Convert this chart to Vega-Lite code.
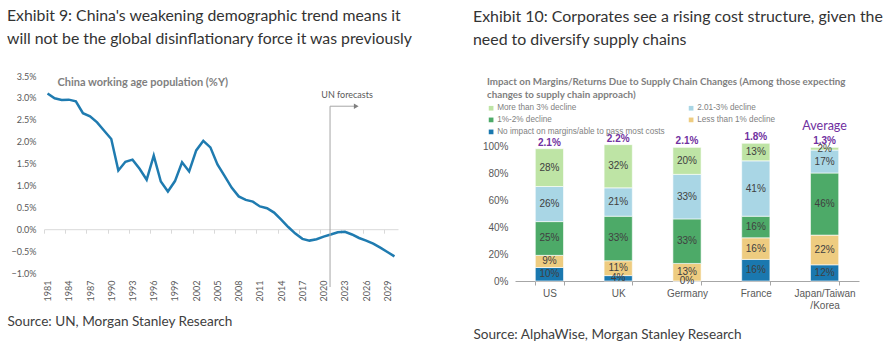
{
  "$schema": "https://vega.github.io/schema/vega-lite/v6.json",
  "background": "white",
  "padding": {"left": 7, "top": 8, "right": 4, "bottom": 4},
  "spacing": 60,
  "config": {"view": {"stroke": null}},
  "resolve": {"legend": {"color": "independent"}, "scale": {"color": "independent"}},
  "datasets": {
    "pop": [
      {"year": 1981, "value": 3.10}, {"year": 1982, "value": 2.99}, {"year": 1983, "value": 2.95}, {"year": 1984, "value": 2.96},
      {"year": 1985, "value": 2.92}, {"year": 1986, "value": 2.65}, {"year": 1987, "value": 2.58}, {"year": 1988, "value": 2.44},
      {"year": 1989, "value": 2.25}, {"year": 1990, "value": 2.06}, {"year": 1991, "value": 1.34}, {"year": 1992, "value": 1.54},
      {"year": 1993, "value": 1.59}, {"year": 1994, "value": 1.38}, {"year": 1995, "value": 1.13}, {"year": 1996, "value": 1.68},
      {"year": 1997, "value": 1.09}, {"year": 1998, "value": 0.86}, {"year": 1999, "value": 1.10}, {"year": 2000, "value": 1.53},
      {"year": 2001, "value": 1.32}, {"year": 2002, "value": 1.80}, {"year": 2003, "value": 2.02}, {"year": 2004, "value": 1.87},
      {"year": 2005, "value": 1.48}, {"year": 2006, "value": 1.22}, {"year": 2007, "value": 0.95}, {"year": 2008, "value": 0.75},
      {"year": 2009, "value": 0.67}, {"year": 2010, "value": 0.63}, {"year": 2011, "value": 0.52}, {"year": 2012, "value": 0.48},
      {"year": 2013, "value": 0.38}, {"year": 2014, "value": 0.22}, {"year": 2015, "value": 0.05}, {"year": 2016, "value": -0.10},
      {"year": 2017, "value": -0.22}, {"year": 2018, "value": -0.26}, {"year": 2019, "value": -0.23}, {"year": 2020, "value": -0.17},
      {"year": 2021, "value": -0.12}, {"year": 2022, "value": -0.07}, {"year": 2023, "value": -0.06}, {"year": 2024, "value": -0.12},
      {"year": 2025, "value": -0.20}, {"year": 2026, "value": -0.26}, {"year": 2027, "value": -0.33}, {"year": 2028, "value": -0.42},
      {"year": 2029, "value": -0.52}, {"year": 2030, "value": -0.62}
    ],
    "segments": [
      {"country": "US", "category": "No impact on margins/able to pass most costs", "order": 1, "value": 10},
      {"country": "US", "category": "Less than 1% decline", "order": 2, "value": 9},
      {"country": "US", "category": "1%-2% decline", "order": 3, "value": 25},
      {"country": "US", "category": "2.01-3% decline", "order": 4, "value": 26},
      {"country": "US", "category": "More than 3% decline", "order": 5, "value": 28},
      {"country": "UK", "category": "No impact on margins/able to pass most costs", "order": 1, "value": 4},
      {"country": "UK", "category": "Less than 1% decline", "order": 2, "value": 11},
      {"country": "UK", "category": "1%-2% decline", "order": 3, "value": 33},
      {"country": "UK", "category": "2.01-3% decline", "order": 4, "value": 21},
      {"country": "UK", "category": "More than 3% decline", "order": 5, "value": 32},
      {"country": "Germany", "category": "No impact on margins/able to pass most costs", "order": 1, "value": 0},
      {"country": "Germany", "category": "Less than 1% decline", "order": 2, "value": 13},
      {"country": "Germany", "category": "1%-2% decline", "order": 3, "value": 33},
      {"country": "Germany", "category": "2.01-3% decline", "order": 4, "value": 33},
      {"country": "Germany", "category": "More than 3% decline", "order": 5, "value": 20},
      {"country": "France", "category": "No impact on margins/able to pass most costs", "order": 1, "value": 16},
      {"country": "France", "category": "Less than 1% decline", "order": 2, "value": 16},
      {"country": "France", "category": "1%-2% decline", "order": 3, "value": 16},
      {"country": "France", "category": "2.01-3% decline", "order": 4, "value": 41},
      {"country": "France", "category": "More than 3% decline", "order": 5, "value": 13},
      {"country": "Japan/Taiwan/Korea", "category": "No impact on margins/able to pass most costs", "order": 1, "value": 12},
      {"country": "Japan/Taiwan/Korea", "category": "Less than 1% decline", "order": 2, "value": 22},
      {"country": "Japan/Taiwan/Korea", "category": "1%-2% decline", "order": 3, "value": 46},
      {"country": "Japan/Taiwan/Korea", "category": "2.01-3% decline", "order": 4, "value": 17},
      {"country": "Japan/Taiwan/Korea", "category": "More than 3% decline", "order": 5, "value": 2}
    ],
    "averages": [
      {"country": "US", "avg": "2.1%"},
      {"country": "UK", "avg": "2.2%"},
      {"country": "Germany", "avg": "2.1%"},
      {"country": "France", "avg": "1.8%"},
      {"country": "Japan/Taiwan/Korea", "avg": "1.3%"}
    ],
    "one": [{"n": 1}]
  },
  "hconcat": [
    {
      "width": 354,
      "height": 197,
      "title": {
        "text": ["Exhibit 9: China's weakening demographic trend means it", "will not be the global disinflationary force it was previously"],
        "anchor": "start", "frame": "group", "dx": -37, "offset": 24,
        "font": "Lato", "fontSize": 15.8, "fontWeight": "normal", "color": "#333333", "lineHeight": 23
      },
      "layer": [
        {
          "data": {"name": "pop"},
          "mark": {"type": "line", "color": "#1f7bb0", "strokeWidth": 2.5},
          "encoding": {
            "x": {
              "field": "year", "type": "quantitative",
              "scale": {"domain": [1980.5, 2030.5], "nice": false, "zero": false},
              "axis": {
                "orient": "bottom", "offset": -43.8, "title": null, "labels": false, "grid": false,
                "values": [1980.5, 1983.5, 1986.5, 1989.5, 1992.5, 1995.5, 1998.5, 2001.5, 2004.5, 2007.5, 2010.5, 2013.5, 2016.5, 2019.5, 2022.5, 2025.5, 2028.5],
                "domainColor": "#d9d9d9", "tickColor": "#d9d9d9", "tickSize": 4
              }
            },
            "y": {
              "field": "value", "type": "quantitative",
              "scale": {"domain": [-1, 3.5], "nice": false, "zero": false},
              "axis": {
                "orient": "left", "title": null, "values": [-1, -0.5, 0, 0.5, 1, 1.5, 2, 2.5, 3, 3.5],
                "labelExpr": "format(datum.value, '.1f') + '%'", "labelOverlap": false,
                "grid": false, "domain": false, "ticks": false, "labelPadding": 8,
                "labelFont": "Lato", "labelFontSize": 9, "labelColor": "#595959"
              }
            }
          }
        },
        {
          "data": {"name": "one"},
          "mark": {"type": "rule", "color": "#a6a6a6", "strokeWidth": 1},
          "encoding": {
            "x": {
              "datum": 2020.9, "type": "quantitative",
              "axis": {
                "orient": "bottom", "grid": false, "domain": false, "ticks": false, "labelOverlap": false,
                "values": [1981, 1984, 1987, 1990, 1993, 1996, 1999, 2002, 2005, 2008, 2011, 2014, 2017, 2020, 2023, 2026, 2029],
                "format": "d", "labelAngle": -90, "labelPadding": 7,
                "labelFont": "Lato", "labelFontSize": 9, "labelColor": "#595959",
                "title": "Source: UN, Morgan Stanley Research",
                "titleFont": "Lato", "titleFontSize": 13.6, "titleFontWeight": "normal", "titleColor": "#404040",
                "titleAnchor": "start", "titleAlign": "left", "titleBaseline": "middle", "titleX": -37, "titleY": 48
              }
            },
            "y": {"datum": 2.81, "type": "quantitative", "axis": null},
            "y2": {"datum": -1.32}
          }
        },
        {
          "data": {"name": "one"},
          "mark": {"type": "rule", "color": "#a6a6a6", "strokeWidth": 1},
          "encoding": {
            "x": {"datum": 2020.9, "type": "quantitative", "axis": null},
            "x2": {"datum": 2024.3},
            "y": {"datum": 2.81, "type": "quantitative", "axis": null}
          }
        },
        {
          "data": {"name": "one"},
          "mark": {"type": "point", "shape": "triangle-right", "filled": true, "color": "#7f7f7f", "size": 30, "opacity": 1},
          "encoding": {
            "x": {"datum": 2024.6, "type": "quantitative", "axis": null},
            "y": {"datum": 2.81, "type": "quantitative", "axis": null}
          }
        },
        {
          "data": {"name": "one"},
          "mark": {"type": "text", "font": "Lato", "fontSize": 9, "color": "#595959", "align": "center", "baseline": "middle"},
          "encoding": {
            "x": {"datum": 2023.3, "type": "quantitative", "axis": null},
            "y": {"datum": 3.07, "type": "quantitative", "axis": null},
            "text": {"value": "UN forecasts"}
          }
        },
        {
          "data": {"name": "one"},
          "mark": {"type": "text", "font": "Lato", "fontSize": 11, "fontWeight": "bold", "color": "#7f7f7f", "align": "left", "baseline": "middle"},
          "encoding": {
            "x": {"datum": 1982.4, "type": "quantitative", "axis": null},
            "y": {"datum": 3.34, "type": "quantitative", "axis": null},
            "text": {"value": "China working age population (%Y)"}
          }
        }
      ],
      "resolve": {"axis": {"x": "independent", "y": "independent"}}
    },
    {
      "width": 344,
      "height": 205,
      "title": {
        "text": ["Exhibit 10: Corporates see a rising cost structure, given the", "need to diversify supply chains"],
        "anchor": "start", "frame": "group", "dx": -42, "offset": 28,
        "font": "Lato", "fontSize": 15.9, "fontWeight": "normal", "color": "#333333", "lineHeight": 23
      },
      "data": {"name": "segments"},
      "transform": [
        {"stack": "value", "groupby": ["country"], "sort": [{"field": "order", "order": "ascending"}], "as": ["y0", "y1"]},
        {"calculate": "(datum.y0 + datum.y1) / 2", "as": "mid"},
        {"calculate": "datum.value + '%'", "as": "label"}
      ],
      "layer": [
        {
          "mark": {"type": "bar", "stroke": "white", "strokeWidth": 0.6},
          "encoding": {
            "x": {
              "field": "country", "type": "nominal",
              "sort": ["US", "UK", "Germany", "France", "Japan/Taiwan/Korea"],
              "scale": {"paddingInner": 0.59, "paddingOuter": 0.295},
              "axis": {
                "labelAngle": 0, "labelExpr": "datum.label == 'Japan/Taiwan/Korea' ? ['Japan/Taiwan', '/Korea'] : datum.label",
                "labelFont": "Liberation Sans", "labelFontSize": 10, "labelColor": "#595959", "labelPadding": 3, "labelLineHeight": 12,
                "domainColor": "#a6a6a6", "tickColor": "#a6a6a6", "tickSize": 4, "tickBand": "extent",
                "title": "Source: AlphaWise, Morgan Stanley Research",
                "titleFont": "Lato", "titleFontSize": 13.6, "titleFontWeight": "normal", "titleColor": "#404040",
                "titleAnchor": "start", "titleAlign": "left", "titleBaseline": "middle", "titleX": -42, "titleY": 53
              }
            },
            "y": {
              "field": "y0", "type": "quantitative",
              "scale": {"domain": [0, 100], "range": [205, 70], "nice": false},
              "axis": {
                "title": null, "values": [0, 20, 40, 60, 80, 100], "labelExpr": "datum.value + '%'", "labelOverlap": false,
                "grid": false, "domain": false, "ticks": false, "labelPadding": 7,
                "labelFont": "Liberation Sans", "labelFontSize": 10, "labelColor": "#595959"
              }
            },
            "y2": {"field": "y1"},
            "color": {
              "field": "category", "type": "nominal",
              "scale": {
                "domain": ["More than 3% decline", "2.01-3% decline", "1%-2% decline", "Less than 1% decline", "No impact on margins/able to pass most costs"],
                "range": ["#bee4a5", "#a9d6e5", "#4daa68", "#eecc80", "#1a78af"]
              },
              "legend": {
                "orient": "none", "direction": "horizontal", "legendX": -28, "legendY": 1, "columns": 2, "columnPadding": 22, "rowPadding": 3,
                "symbolType": "square", "symbolSize": 22, "symbolStrokeWidth": 0,
                "labelFont": "Liberation Sans", "labelFontSize": 8.2, "labelColor": "#7f7f7f", "labelLimit": 300, "labelOffset": 2,
                "title": ["Impact on Margins/Returns Due to Supply Chain Changes (Among those expecting", "changes to supply chain approach)"],
                "titleFont": "Lato", "titleFontSize": 9.8, "titleFontWeight": "bold", "titleColor": "#7f7f7f",
                "titleLimit": 500, "titleLineHeight": 13, "titlePadding": 4
              }
            }
          }
        },
        {
          "mark": {"type": "text", "font": "Liberation Sans", "fontSize": 10, "color": "#404040", "baseline": "middle"},
          "encoding": {
            "x": {"field": "country", "type": "nominal", "sort": ["US", "UK", "Germany", "France", "Japan/Taiwan/Korea"]},
            "y": {"field": "mid", "type": "quantitative"},
            "text": {"field": "label"}
          }
        },
        {
          "transform": [
            {"aggregate": [{"op": "max", "field": "y1", "as": "total"}], "groupby": ["country"]},
            {"lookup": "country", "from": {"data": {"name": "averages"}, "key": "country", "fields": ["avg"]}}
          ],
          "mark": {"type": "text", "font": "Liberation Sans", "fontSize": 10, "fontWeight": "bold", "color": "#7030a0", "baseline": "bottom", "dy": -1},
          "encoding": {
            "x": {"field": "country", "type": "nominal", "sort": ["US", "UK", "Germany", "France", "Japan/Taiwan/Korea"]},
            "y": {"field": "total", "type": "quantitative"},
            "text": {"field": "avg"}
          }
        },
        {
          "transform": [
            {"filter": "datum.country == 'Japan/Taiwan/Korea'"},
            {"aggregate": [{"op": "max", "field": "y1", "as": "total"}], "groupby": ["country"]}
          ],
          "mark": {"type": "text", "font": "Lato", "fontSize": 12.5, "color": "#7030a0", "baseline": "bottom", "dy": -14},
          "encoding": {
            "x": {"field": "country", "type": "nominal", "sort": ["US", "UK", "Germany", "France", "Japan/Taiwan/Korea"]},
            "y": {"field": "total", "type": "quantitative"},
            "text": {"value": "Average"}
          }
        }
      ]
    }
  ]
}
